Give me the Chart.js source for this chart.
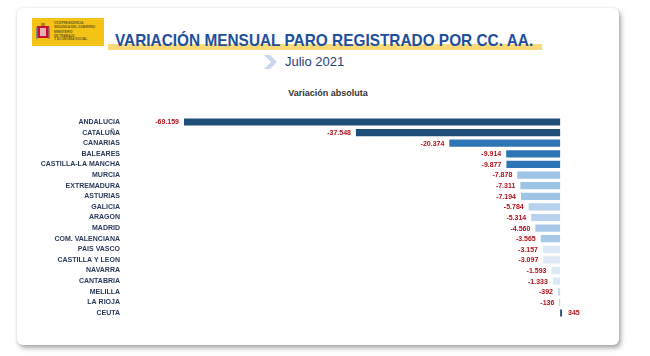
<!DOCTYPE html>
<html>
<head>
<meta charset="utf-8">
<script src="https://cdn.jsdelivr.net/npm/chart.js@4.4.1/dist/chart.umd.min.js"></script>
<style>
html,body{margin:0;padding:0;background:#fff;width:650px;height:356px;overflow:hidden;font-family:"Liberation Sans",Arial,sans-serif;}
#card{position:absolute;left:17px;top:8px;width:602px;height:337px;background:#fff;border-radius:6px;box-shadow:2px 3px 5px rgba(0,0,0,0.35),0 0 2px rgba(0,0,0,0.12);}
#logo{position:absolute;left:32px;top:18px;width:72px;height:28px;background:#f4c316;}
#logo .arms{position:absolute;left:4px;top:5px;width:14px;height:18px;}
#logo .txt{position:absolute;left:22px;font-size:3.2px;line-height:3.6px;color:#6a5a20;font-weight:bold;white-space:nowrap;}
#hl{position:absolute;left:108px;top:44px;width:434px;height:6px;background:#f8d66a;opacity:0.9;}
#title{position:absolute;left:115px;top:32px;font-size:17px;font-weight:bold;color:#1f4f9c;white-space:nowrap;transform-origin:0 0;line-height:18px;}
#chev{position:absolute;left:264px;top:55px;}
#sub{position:absolute;left:285px;top:54px;font-size:13px;color:#1f3f7a;white-space:nowrap;line-height:15px;}
#va{position:absolute;left:0;width:656px;top:88px;text-align:center;font-size:9px;font-weight:bold;color:#333;}
#wrap{position:absolute;left:0;top:0;width:650px;height:356px;}
</style>
</head>
<body>
<div id="card"></div>
<div id="logo">
  <svg class="arms" viewBox="0 0 14 18"><rect x="1" y="3" width="12" height="12" fill="#c8102e"/><rect x="4" y="5" width="6" height="8" fill="#e8b0b0"/><rect x="5" y="0" width="4" height="3" fill="#b08020"/><rect x="0" y="4" width="1.5" height="12" fill="#888"/><rect x="12.5" y="4" width="1.5" height="12" fill="#888"/></svg>
  <div class="txt" style="top:4px">VICEPRESIDENCIA<br>SEGUNDA DEL GOBIERNO</div>
  <div class="txt" style="top:13px">MINISTERIO<br>DE TRABAJO<br>Y ECONOMÍA SOCIAL</div>
</div>
<div id="hl"></div>
<div id="title">VARIACIÓN MENSUAL PARO REGISTRADO POR CC. AA.</div>
<svg id="chev" width="14" height="14" viewBox="0 0 14 14"><polygon points="0,0 6,0 13,7 6,14 0,14 7,7" fill="#c9d8ea"/></svg>
<div id="sub">Julio 2021</div>
<div id="va">Variación absoluta</div>
<div id="wrap"><canvas id="c"></canvas></div>
<script>
const categories = ["ANDALUCIA","CATALUÑA","CANARIAS","BALEARES","CASTILLA-LA MANCHA","MURCIA","EXTREMADURA","ASTURIAS","GALICIA","ARAGON","MADRID","COM. VALENCIANA","PAIS VASCO","CASTILLA Y LEON","NAVARRA","CANTABRIA","MELILLA","LA RIOJA","CEUTA"];
const values = [-69159,-37548,-20374,-9914,-9877,-7878,-7311,-7194,-5784,-5314,-4560,-3565,-3157,-3097,-1593,-1333,-392,-136,345];
const barColors = ["#1f4e79","#1f4e79","#2e75b6","#2e75b6","#2e75b6","#9dc3e6","#9dc3e6","#9dc3e6","#b6d2ee","#b6d2ee","#a8c8ea","#a8c8ea","#dce8f5","#dce8f5","#dce8f5","#dce8f5","#c9d9ea","#a9bdd6","#1f4e79"];

const t = document.getElementById('title');
t.style.transform = 'scaleX(' + (418 / t.offsetWidth) + ')';

function fmt(v){
  const s = Math.abs(v).toString().replace(/\B(?=(\d{3})+(?!\d))/g, '.');
  return (v < 0 ? '-' : '') + s;
}

const labelPlugin = {
  id: 'valueLabels',
  afterDatasetsDraw(chart){
    const ctx = chart.ctx;
    const meta = chart.getDatasetMeta(0);
    ctx.save();
    ctx.font = 'bold 7px "Liberation Sans", Arial, sans-serif';
    ctx.fillStyle = '#b3121c';
    ctx.textBaseline = 'middle';
    meta.data.forEach((bar, i) => {
      const v = chart.data.datasets[0].data[i];
      if (v < 0) {
        ctx.textAlign = 'right';
        ctx.fillText(fmt(v), Math.min(bar.x, bar.base) - 5, bar.y + 0.5);
      } else {
        ctx.textAlign = 'left';
        ctx.fillText(fmt(v), Math.max(bar.x, bar.base) + 6, bar.y + 0.5);
      }
    });
    ctx.restore();
  }
};

new Chart(document.getElementById('c'), {
  type: 'bar',
  data: {
    labels: categories,
    datasets: [{
      data: values,
      backgroundColor: barColors,
      borderWidth: 0,
      categoryPercentage: 1,
      barPercentage: 0.68
    }]
  },
  options: {
    indexAxis: 'y',
    responsive: true,
    maintainAspectRatio: false,
    animation: false,
    layout: { padding: { top: 116.7, bottom: 37.7, left: 0, right: 88 } },
    plugins: { legend: { display: false }, tooltip: { enabled: false } },
    scales: {
      x: {
        display: false,
        min: -69159,
        max: 345
      },
      y: {
        grid: { display: true, drawOnChartArea: false, drawTicks: true, tickLength: 62, color: 'rgba(0,0,0,0)' },
        border: { display: false },
        ticks: {
          padding: 2,
          color: '#2a3a58',
          font: { family: '"Liberation Sans", Arial, sans-serif', size: 7, weight: 'bold' },
          autoSkip: false
        },
        afterFit(scale){ scale.width = 184; }
      }
    }
  },
  plugins: [labelPlugin]
});
</script>
</body>
</html>
